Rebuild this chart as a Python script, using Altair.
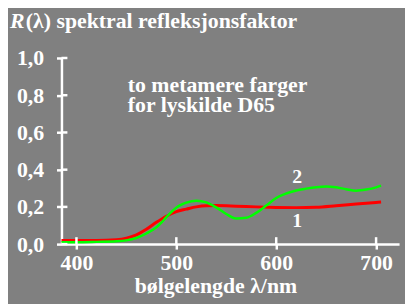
import altair as alt
import pandas as pd

# curve 1 (red)
nm1 = [385, 400, 420, 440, 450, 460, 470, 480, 490, 500, 510, 520, 530, 540, 560, 580, 600, 620, 640, 660, 680, 700, 705]
r1 = [0.02, 0.02, 0.02, 0.024, 0.032, 0.05, 0.08, 0.117, 0.15, 0.175, 0.188, 0.2, 0.206, 0.207, 0.204, 0.2, 0.197, 0.196, 0.198, 0.206, 0.215, 0.224, 0.226]
# curve 2 (green)
nm2 = [385, 400, 420, 440, 450, 460, 470, 480, 485, 490, 495, 500, 505, 510, 520, 530, 540, 550, 560, 570, 580, 590, 600, 610, 620, 630, 640, 650, 660, 670, 680, 690, 700, 705]
r2 = [0.01, 0.01, 0.012, 0.015, 0.02, 0.033, 0.057, 0.09, 0.115, 0.145, 0.172, 0.196, 0.212, 0.223, 0.233, 0.224, 0.197, 0.162, 0.138, 0.142, 0.168, 0.207, 0.248, 0.272, 0.288, 0.298, 0.306, 0.31, 0.305, 0.295, 0.287, 0.293, 0.305, 0.314]

x_ticks = [400, 500, 600, 700]
y_ticks = [0.0, 0.2, 0.4, 0.6, 0.8, 1.0]

labels_txt = ["1", "2"]
labels_nm = [621, 621]
labels_val = [0.123, 0.36]

W, H = 341, 188
FONT = "Liberation Serif"

xs = alt.Scale(domain=[385, 723], nice=False, zero=False)
ys = alt.Scale(domain=[0, 1], nice=False)

df1 = pd.DataFrame({"nm": nm1, "r": r1})
df2 = pd.DataFrame({"nm": nm2, "r": r2})

xaxis = alt.Axis(values=x_ticks, format="d", labelFlush=False, labelOverlap=False,
                 labelPadding=4, tickSize=5, title=None)
yaxis = alt.Axis(values=y_ticks, format=".1f", labelExpr="replace(datum.label, '.', ',')",
                 labelPadding=13, tickSize=5, title=None, labelBaseline="middle",
                 labelOverlap=False, labelFlush=False)


def X(f):
    return alt.X(f, type="quantitative", scale=xs, axis=xaxis)


def Y(f):
    return alt.Y(f, type="quantitative", scale=ys, axis=yaxis)


red = alt.Chart(df1).mark_line(color="#ff0000", strokeWidth=3, interpolate="monotone").encode(
    x=X("nm"), y=Y("r"),
)
green = alt.Chart(df2).mark_line(color="#00ff00", strokeWidth=2.5, interpolate="monotone").encode(
    x=X("nm"), y=Y("r"),
)

ytick_in = alt.Chart(pd.DataFrame({"v": y_ticks})).mark_rule(color="white", strokeWidth=2.5).encode(
    y=Y("v"), x=alt.value(0), x2=alt.value(6)
)
xtick_in = alt.Chart(pd.DataFrame({"v": x_ticks})).mark_rule(color="white", strokeWidth=2.5).encode(
    x=X("v"), y=alt.value(H - 7), y2=alt.value(H)
)

lab = alt.Chart(pd.DataFrame({"t": labels_txt, "nm": labels_nm, "v": labels_val})).mark_text(
    font=FONT, fontWeight="bold", fontSize=20, color="white", baseline="middle", align="center"
).encode(x=X("nm"), y=Y("v"), text="t:N")


def txt(s, x, y, style="normal", align="left"):
    return alt.Chart(pd.DataFrame({"t": [s]})).mark_text(
        font=FONT, fontWeight="bold", fontStyle=style, fontSize=22, color="white",
        baseline="alphabetic", align=align
    ).encode(text="t:N", x=alt.value(x), y=alt.value(y))


t_R = txt("R", -52, -30, style="italic")
t_title = txt("(λ) spektral refleksjonsfaktor", -36, -30)
t_a1 = txt("to metamere farger", 67, 34)
t_a2 = txt("for lyskilde D65", 67, 55)
t_x = txt("bølgelengde λ/nm", 156, 237, align="center")

chart = alt.layer(red, green, ytick_in, xtick_in, lab, t_R, t_title, t_a1, t_a2, t_x).properties(
    width=W, height=H,
    padding={"left": 54, "top": 49, "right": 6, "bottom": 59},
    autosize=alt.AutoSizeParams(type="none"),
    background="#808080",
).configure_view(stroke=None).configure_axis(
    domainColor="white", domainWidth=2.5, tickColor="white", tickWidth=2.5,
    labelColor="white", labelFont=FONT, labelFontWeight="bold", labelFontSize=22, grid=False,
)

chart.save("out.html", embed_options={"renderer": "svg", "actions": False})
